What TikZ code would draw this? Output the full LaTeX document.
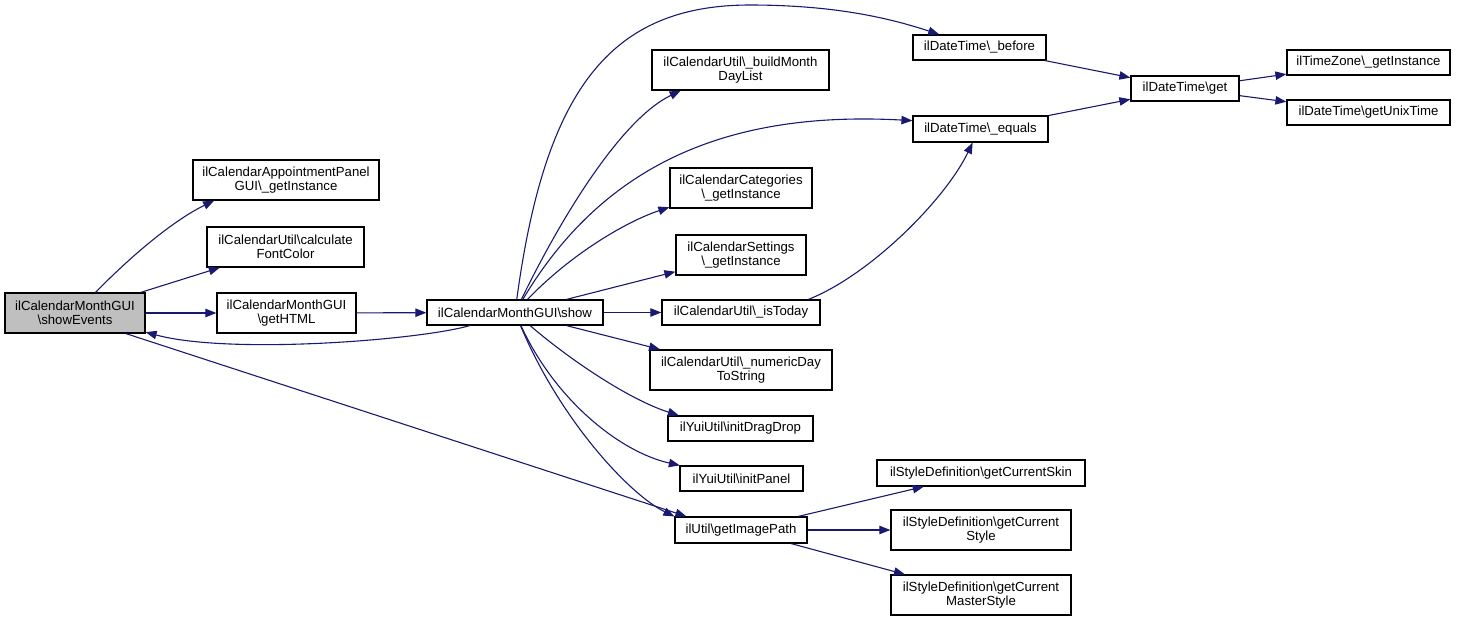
\documentclass[tikz,border=0pt]{standalone}
\usepackage{fontspec}
\setmainfont{Liberation Sans}
\usetikzlibrary{arrows.meta}
\definecolor{edgeblue}{HTML}{191970}
\definecolor{nodegray}{HTML}{BFBFBF}
\newcommand{\Bk}{\textbackslash}
\begin{document}
\begin{tikzpicture}[x=0.5pt,y=-0.5pt, font=\fontsize{6.6}{7.2}\selectfont,
  box/.style={draw=black, line width=0.6pt, fill=white, align=center, inner sep=0pt, anchor=center},
  edge/.style={draw=edgeblue, line width=0.55pt, -{Triangle[length=5.5pt,width=4.2pt]}}]
\useasboundingbox (0,0) rectangle (1457,623);

% nodes
\node[box, fill=nodegray, minimum width=70pt, minimum height=20pt] (se) at (75,313) {ilCalendarMonthGUI\\\Bk showEvents};
\node[box, minimum width=93pt, minimum height=20pt] (ap) at (286,180) {ilCalendarAppointmentPanel\\GUI\Bk\_getInstance};
\node[box, minimum width=78.5pt, minimum height=20pt] (cf) at (285.5,247) {ilCalendarUtil\Bk calculate\\FontColor};
\node[box, minimum width=69.5pt, minimum height=20pt] (gh) at (286.5,313) {ilCalendarMonthGUI\\\Bk getHTML};
\node[box, minimum width=88pt, minimum height=12.5pt] (sh) at (515,312.5) {ilCalendarMonthGUI\Bk show};
\node[box, minimum width=66.5pt, minimum height=12.5pt] (bf) at (979.5,47.5) {ilDateTime\Bk\_before};
\node[box, minimum width=88.5pt, minimum height=20pt] (bm) at (740.5,70) {ilCalendarUtil\Bk\_buildMonth\\DayList};
\node[box, minimum width=67.5pt, minimum height=13pt] (eq) at (980.5,129) {ilDateTime\Bk\_equals};
\node[box, minimum width=71pt, minimum height=20pt] (ct) at (741,188) {ilCalendarCategories\\\Bk\_getInstance};
\node[box, minimum width=65pt, minimum height=20pt] (st) at (741,255) {ilCalendarSettings\\\Bk\_getInstance};
\node[box, minimum width=79pt, minimum height=12.5pt] (it) at (741,312.5) {ilCalendarUtil\Bk\_isToday};
\node[box, minimum width=91pt, minimum height=20pt] (nd) at (741,370) {ilCalendarUtil\Bk\_numericDay\\ToString};
\node[box, minimum width=72.5pt, minimum height=12.5pt] (dd) at (740.5,428.5) {ilYuiUtil\Bk initDragDrop};
\node[box, minimum width=61.5pt, minimum height=12.5pt] (ip) at (741.5,478.5) {ilYuiUtil\Bk initPanel};
\node[box, minimum width=66pt, minimum height=13pt] (gi) at (741,530) {ilUtil\Bk getImagePath};
\node[box, minimum width=54pt, minimum height=12.5pt] (gt) at (1185,88.5) {ilDateTime\Bk get};
\node[box, minimum width=81.5pt, minimum height=12.5pt] (tz) at (1368.5,62.5) {ilTimeZone\Bk\_getInstance};
\node[box, minimum width=81.5pt, minimum height=12.5pt] (ut) at (1368.5,112.5) {ilDateTime\Bk getUnixTime};
\node[box, minimum width=104pt, minimum height=13pt] (sk) at (981,473) {ilStyleDefinition\Bk getCurrentSkin};
\node[box, minimum width=90pt, minimum height=20pt] (sy) at (981,530) {ilStyleDefinition\Bk getCurrent\\Style};
\node[box, minimum width=90pt, minimum height=20pt] (ms) at (981,595) {ilStyleDefinition\Bk getCurrent\\MasterStyle};

% edges
\draw[edge] (se.45) .. controls (125,262) and (170,222) .. (ap.196);
\draw[edge] (se) -- (cf);
\draw[edge] (se) -- (gh);
\draw[edge] (gh) -- (sh);
\draw[edge] (sh) .. controls (420,340) and (230,355) .. (se);
\draw[edge] (se.-22) -- (gi.166);
\draw[edge] (sh) .. controls (545,90) and (610,5) .. (750,5) .. controls (840,5) and (895,20) .. (bf);
\draw[edge] (sh) .. controls (560,220) and (620,120) .. (bm.199);
\draw[edge] (sh) .. controls (600,170) and (720,110) .. (eq.173);
\draw[edge] (sh) .. controls (570,255) and (625,222) .. (ct.195);
\draw[edge] (sh) -- (st);
\draw[edge] (sh) -- (it);
\draw[edge] (sh) -- (nd);
\draw[edge] (sh) .. controls (570,360) and (630,400) .. (dd.168);
\draw[edge] (sh) .. controls (555,400) and (620,452) .. (ip.168);
\draw[edge] (sh) .. controls (560,420) and (630,495) .. (gi.north west);
\draw[edge] (it.11) .. controls (870,275) and (945,200) .. (eq.240);
\draw[edge] (bf) -- (gt);
\draw[edge] (eq) -- (gt);
\draw[edge] (gt) -- (tz);
\draw[edge] (gt) -- (ut);
\draw[edge] (gi) -- (sk);
\draw[edge] (gi) -- (sy);
\draw[edge] (gi) -- (ms);
\end{tikzpicture}
\end{document}
